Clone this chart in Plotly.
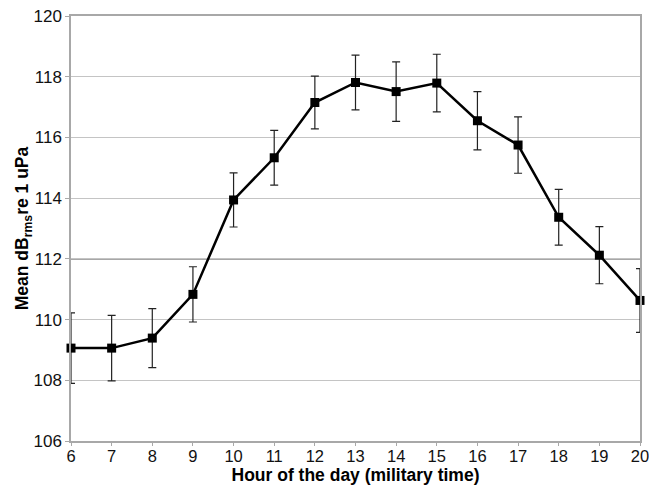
import plotly.graph_objects as go

hours = [6, 7, 8, 9, 10, 11, 12, 13, 14, 15, 16, 17, 18, 19, 20]
mean_db = [109.06, 109.06, 109.39, 110.83, 113.94, 115.33, 117.15, 117.81,
           117.51, 117.79, 116.55, 115.75, 113.37, 112.12, 110.63]
err_db = [1.16, 1.08, 0.97, 0.91, 0.89, 0.90, 0.87, 0.90,
          0.98, 0.95, 0.96, 0.93, 0.92, 0.94, 1.05]

x_title = "Hour of the day (military time)"
y_title = "Mean dB<sub>rms</sub>re 1 uPa"

fig = go.Figure()
fig.add_trace(go.Scatter(
    x=hours, y=mean_db,
    mode="lines+markers",
    line=dict(color="black", width=2.5),
    marker=dict(symbol="square", size=9, color="black"),
    error_y=dict(type="data", array=err_db, visible=True,
                 color="#222222", thickness=1.2, width=4),
    cliponaxis=False,
    showlegend=False,
))

# darker reference gridline at 112, as in the original
fig.add_shape(type="line", xref="paper", x0=0, x1=1, yref="y", y0=112, y1=112,
              line=dict(color="#8a8a8a", width=1.6), layer="between")

font_family = "Liberation Sans, Arial, sans-serif"

fig.update_layout(
    width=649, height=496,
    margin=dict(l=71, r=9, t=16, b=55),
    paper_bgcolor="white", plot_bgcolor="white",
    font=dict(family=font_family, color="black", size=17),
)
fig.update_xaxes(
    range=[6, 20], tickmode="array", tickvals=hours,
    showgrid=False, zeroline=False, automargin=False,
    showline=True, linecolor="#a8a8a8", linewidth=1.5, mirror=True,
    ticks="outside", ticklen=3, tickcolor="#a8a8a8", ticklabelstandoff=-4,
    ticklabeloverflow="allow",
    tickfont=dict(size=16.5, color="#111111"),
    title=dict(text=x_title, font=dict(size=17.5, family=font_family, weight="bold"), standoff=0),
)
fig.update_yaxes(
    range=[106, 120], dtick=2,
    showgrid=True, gridcolor="#c4c4c4", gridwidth=1, zeroline=False, automargin=False,
    showline=True, linecolor="#a8a8a8", linewidth=1.5, mirror=True,
    ticks="outside", ticklen=4, tickcolor="#a8a8a8",
    tickfont=dict(size=17, color="#111111"),
    title=dict(text=y_title, font=dict(size=17.5, family=font_family, weight="bold"), standoff=0),
)

fig.write_html("out.html")
